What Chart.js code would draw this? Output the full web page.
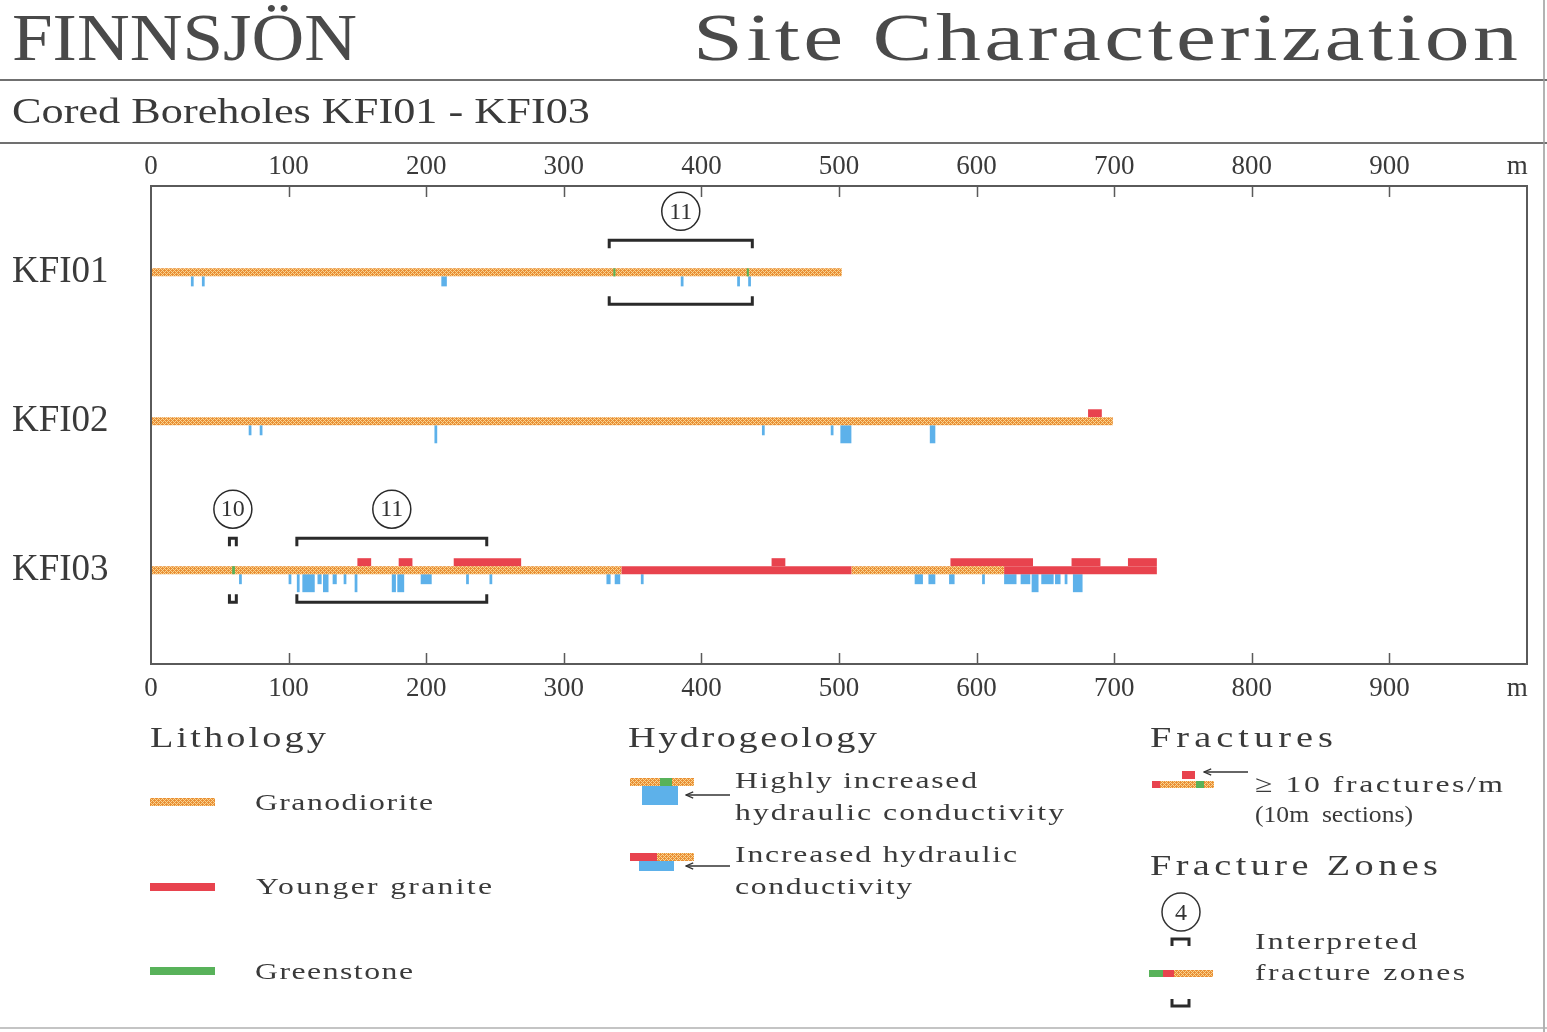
<!DOCTYPE html>
<html>
<head>
<meta charset="utf-8">
<title>Finnsjön – Cored Boreholes KFI01 - KFI03</title>
<script src="https://cdn.jsdelivr.net/npm/chart.js@4.4.1/dist/chart.umd.min.js"></script>
<style>
  html, body { margin: 0; padding: 0; background: #fff; }
  #page { position: relative; width: 1547px; height: 1032px; overflow: hidden; background: #fff;
          font-family: "Liberation Serif", serif; color: #3a3a3a; }
  #page canvas { position: absolute; left: 0; top: 0; }
  .t { position: absolute; white-space: pre; line-height: 1; transform-origin: 0 0; }
  .title { color: #4a4a4a; }
  .rule { position: absolute; left: 0; width: 1547px; height: 2px; background: #707070; }
  #art { position: absolute; left: 0; top: 0; pointer-events: none; }
</style>
</head>
<body>
<div id="page">
  <canvas id="chart" width="1547" height="1032"></canvas>

  <div class="t title" data-x="12" data-base="60" data-fs="68" data-w="345">FINNSJÖN</div>
  <div class="t title" data-x="693" data-base="60" data-fs="68" data-w="825">Site Characterization</div>
  <div class="rule" style="top:79px"></div>
  <div class="t" data-x="12" data-base="123" data-fs="35" data-w="578">Cored Boreholes KFI01 - KFI03</div>
  <div class="rule" style="top:142px"></div>

  <div class="t" data-x="150" data-base="747" data-fs="29" data-w="176">Lithology</div>
  <div class="t" data-x="255" data-base="810" data-fs="24" data-w="178">Granodiorite</div>
  <div class="t" data-x="256" data-base="894" data-fs="24" data-w="236">Younger granite</div>
  <div class="t" data-x="255" data-base="979" data-fs="24" data-w="158">Greenstone</div>

  <div class="t" data-x="628" data-base="747" data-fs="29" data-w="249">Hydrogeology</div>
  <div class="t" data-x="735" data-base="788" data-fs="24" data-w="242">Highly increased</div>
  <div class="t" data-x="735" data-base="820" data-fs="24" data-w="329">hydraulic conductivity</div>
  <div class="t" data-x="735" data-base="862" data-fs="24" data-w="282">Increased hydraulic</div>
  <div class="t" data-x="735" data-base="894" data-fs="24" data-w="177">conductivity</div>

  <div class="t" data-x="1150" data-base="747" data-fs="29" data-w="183">Fractures</div>
  <div class="t" data-x="1255" data-base="792" data-fs="24" data-w="248">≥ 10 fractures/m</div>
  <div class="t" data-x="1255" data-base="822" data-fs="24" data-w="158">(10m  sections)</div>

  <div class="t" data-x="1150" data-base="875" data-fs="29" data-w="288">Fracture Zones</div>
  <div class="t" data-x="1255" data-base="949" data-fs="24" data-w="162">Interpreted</div>
  <div class="t" data-x="1255" data-base="980" data-fs="24" data-w="210">fracture zones</div>

  <svg id="art" width="1547" height="1032" xmlns="http://www.w3.org/2000/svg">
    <defs>
      <pattern id="hatch" width="4" height="4" patternUnits="userSpaceOnUse">
        <rect width="4" height="4" fill="#ea8f36"/>
        <path d="M0 0h1v1h-1zM1 1h1v1h-1zM2 2h1v1h-1zM3 3h1v1h-1zM1 3h1v1h-1zM3 1h1v1h-1z" fill="#f7d590"/>
      </pattern>
      <marker id="head" viewBox="0 0 10 10" refX="9" refY="5" markerWidth="9" markerHeight="9"
              markerUnits="userSpaceOnUse" orient="auto">
        <path d="M1 1.5L9 5L1 8.5" fill="none" stroke="#333" stroke-width="1.4"/>
      </marker>
    </defs>
    <!-- Lithology -->
    <rect x="150" y="798" width="65" height="8" fill="url(#hatch)"/>
    <rect x="150" y="883" width="65" height="8" fill="#e8434e"/>
    <rect x="150" y="967" width="65" height="8" fill="#58b25a"/>
    <!-- Hydrogeology -->
    <rect x="630" y="778" width="30" height="8" fill="url(#hatch)"/>
    <rect x="660" y="778" width="12" height="8" fill="#58b25a"/>
    <rect x="672" y="778" width="22" height="8" fill="url(#hatch)"/>
    <rect x="642" y="786" width="36" height="19" fill="#5db1ea"/>
    <line x1="730" y1="795" x2="686" y2="795" stroke="#333" stroke-width="1.4" marker-end="url(#head)"/>
    <rect x="630" y="853" width="27" height="8" fill="#e8434e"/>
    <rect x="657" y="853" width="37" height="8" fill="url(#hatch)"/>
    <rect x="639" y="861" width="35" height="10" fill="#5db1ea"/>
    <line x1="730" y1="866" x2="686" y2="866" stroke="#333" stroke-width="1.4" marker-end="url(#head)"/>
    <!-- Fractures -->
    <rect x="1152" y="781" width="8" height="7" fill="#e8434e"/>
    <rect x="1160" y="781" width="36" height="7" fill="url(#hatch)"/>
    <rect x="1196" y="781" width="8" height="7" fill="#58b25a"/>
    <rect x="1204" y="781" width="10" height="7" fill="url(#hatch)"/>
    <rect x="1182" y="771" width="13" height="8" fill="#e8434e"/>
    <line x1="1248" y1="772" x2="1204" y2="772" stroke="#333" stroke-width="1.4" marker-end="url(#head)"/>
    <!-- Fracture zones -->
    <circle cx="1181" cy="912" r="19" fill="none" stroke="#333" stroke-width="1.5"/>
    <text x="1181" y="920" text-anchor="middle" font-family="Liberation Serif" font-size="24" fill="#333">4</text>
    <path d="M1172 946V939H1189V946" fill="none" stroke="#2a2a2a" stroke-width="3"/>
    <rect x="1149" y="970" width="14" height="7" fill="#58b25a"/>
    <rect x="1163" y="970" width="11" height="7" fill="#e8434e"/>
    <rect x="1174" y="970" width="39" height="7" fill="url(#hatch)"/>
    <path d="M1172 999V1006H1189V999" fill="none" stroke="#2a2a2a" stroke-width="3"/>
    <!-- page frame -->
    <line x1="1544" y1="0" x2="1544" y2="1032" stroke="#9a9a9a" stroke-width="1.5"/>
    <line x1="0" y1="1028" x2="1547" y2="1028" stroke="#b0b0b0" stroke-width="1.5"/>
  </svg>
</div>

<script>
// ---- data (metres along borehole) ----
const BOREHOLES = ['KFI01', 'KFI02', 'KFI03'];
const ROW_POS = [1, 2, 3];
const X_TICKS = [0, 100, 200, 300, 400, 500, 600, 700, 800, 900];
const X_UNIT = 'm';
const X_UNIT_AT = 993;

// lithology segments, one list per borehole
const granodiorite = [[[0, 502]], [[0, 699]], [[0, 342], [509, 620]]];
const youngerGranite = [[], [], [[342, 509], [620, 731]]];
const greenstone = [[[336, 337.5], [433, 434.5]], [], [[59, 61]]];

// >= 10 fractures/m (10 m sections)
const fractures10 = [
  [],
  [[681, 691]],
  [[150, 160], [180, 190], [220, 269], [451, 461], [581, 641], [669, 690], [710, 731]],
];

// hydraulic conductivity
const increasedK = [
  [[29, 31], [37, 39], [211, 215], [385, 387], [426, 428], [434, 436]],
  [[71, 73], [79, 81], [444, 446], [494, 496]],
  [[64, 66], [100, 102], [121, 124], [132, 135], [140, 142], [196, 204], [229, 231], [246, 248],
   [331, 334], [337, 341], [356, 358], [555, 561], [565, 570], [580, 584], [604, 606],
   [620, 629], [632, 639], [647, 656], [657, 661], [664, 666]],
];
const highK = [
  [],
  [[206, 208], [501, 509], [566, 570]],
  [[106, 108], [110, 119], [125, 129], [148, 150], [175, 178], [179, 184], [640, 645], [670, 677]],
];

// interpreted fracture zones
const zoneIds = ['11', '10', '11'];
const zoneHole = [0, 2, 2];
const zoneFrom = [333, 57, 106];
const zoneTo = [437, 62, 244];

// ---- styling ----
const Y_MIN = 0.42, Y_MAX = 3.63, PLOT_H = 478;
const px = (p) => p * (Y_MAX - Y_MIN) / PLOT_H;
const C = { red: '#e8434e', blue: '#5db1ea', green: '#58b25a', ink: '#2a2a2a' };
const FONT = '"Liberation Serif", serif';

// stretch the thin serif texts to the wide plotter lettering of the original
document.querySelectorAll('.t').forEach((el) => {
  const fs = +el.dataset.fs;
  el.style.fontSize = fs + 'px';
  el.style.left = el.dataset.x + 'px';
  el.style.top = (el.dataset.base - 0.8375 * fs) + 'px';
  const natural = el.getBoundingClientRect().width;
  const n = el.textContent.length;
  const target = +el.dataset.w;
  const k = Math.min(1.32, Math.max(1, target / natural));
  el.style.letterSpacing = ((target / k - natural) / (n - 1)) + 'px';
  el.style.transform = `scaleX(${k})`;
});

const makeHatch = () => {
  const tile = document.createElement('canvas');
  tile.width = tile.height = 4;
  const t = tile.getContext('2d');
  t.fillStyle = '#ea8f36';
  t.fillRect(0, 0, 4, 4);
  t.fillStyle = '#f7d590';
  [[0, 0], [1, 1], [2, 2], [3, 3], [1, 3], [3, 1]].forEach(([a, b]) => t.fillRect(a, b, 1, 1));
  return document.getElementById('chart').getContext('2d').createPattern(tile, 'repeat');
};

const toBars = (lists, offset) =>
  lists.flatMap((segs, i) => segs.map(([a, b]) => ({ x: [a, b], y: ROW_POS[i] + offset })));

const barSet = (label, lists, color, thick, offsetPx) => ({
  label,
  data: toBars(lists, px(offsetPx)),
  backgroundColor: color,
  barThickness: thick,
  borderWidth: 0,
  grouped: false,
  inflateAmount: 0,
});

const framePlugin = {
  id: 'frame',
  afterDatasetsDraw(chart) {
    const { ctx, chartArea: a, scales: { x } } = chart;
    ctx.save();
    ctx.strokeStyle = '#5a5a5a';
    ctx.lineWidth = 2;
    ctx.strokeRect(a.left, a.top, a.width, a.height);
    ctx.lineWidth = 1.5;
    X_TICKS.slice(1).forEach((v) => {
      const p = Math.round(x.getPixelForValue(v)) + 0.5;
      ctx.beginPath();
      ctx.moveTo(p, a.top); ctx.lineTo(p, a.top + 11);
      ctx.moveTo(p, a.bottom); ctx.lineTo(p, a.bottom - 11);
      ctx.stroke();
    });
    ctx.restore();
  },
};

const zonePlugin = {
  id: 'zones',
  afterDatasetsDraw(chart) {
    const { ctx, scales: { x, y } } = chart;
    ctx.save();
    ctx.strokeStyle = C.ink;
    zoneIds.forEach((id, i) => {
      const x0 = x.getPixelForValue(zoneFrom[i]);
      const x1 = x.getPixelForValue(zoneTo[i]);
      const yc = y.getPixelForValue(ROW_POS[zoneHole[i]]);
      ctx.lineWidth = 3;
      ctx.beginPath();
      ctx.moveTo(x0, yc - 24); ctx.lineTo(x0, yc - 32); ctx.lineTo(x1, yc - 32); ctx.lineTo(x1, yc - 24);
      ctx.moveTo(x0, yc + 24); ctx.lineTo(x0, yc + 32); ctx.lineTo(x1, yc + 32); ctx.lineTo(x1, yc + 24);
      ctx.stroke();
      const cx = (x0 + x1) / 2, cy = yc - 61;
      ctx.lineWidth = 1.5;
      ctx.beginPath();
      ctx.arc(cx, cy, 19, 0, Math.PI * 2);
      ctx.stroke();
      ctx.fillStyle = '#333';
      ctx.font = '24px ' + FONT;
      ctx.textAlign = 'center';
      ctx.textBaseline = 'middle';
      ctx.fillText(id, cx, cy + 1);
    });
    ctx.restore();
  },
};

const xAxis = (position, pad) => ({
  type: 'linear',
  position,
  min: 0,
  max: 1000,
  offset: false,
  grid: { display: false, drawTicks: false },
  border: { display: false },
  afterBuildTicks: (s) => { s.ticks = X_TICKS.concat(X_UNIT_AT).map((value) => ({ value })); },
  afterFit: (s) => { s.height = 46; },
  ticks: {
    padding: pad,
    maxRotation: 0,
    autoSkip: false,
    color: '#3a3a3a',
    font: { family: FONT, size: 27 },
    callback: (v) => (v === X_UNIT_AT ? X_UNIT : String(v)),
  },
});

const hatch = makeHatch();

new Chart(document.getElementById('chart'), {
  type: 'bar',
  data: {
    datasets: [
      barSet('Greenstone', greenstone, C.green, 8, 0),
      barSet('Younger granite', youngerGranite, C.red, 8, 0),
      barSet('Granodiorite', granodiorite, hatch, 8, 0),
      barSet('>= 10 fractures/m', fractures10, C.red, 8, -8),
      barSet('Increased hydraulic conductivity', increasedK, C.blue, 10, 9),
      barSet('Highly increased hydraulic conductivity', highK, C.blue, 18, 13),
    ],
  },
  options: {
    indexAxis: 'y',
    responsive: false,
    animation: false,
    layout: { padding: { left: 12, top: 140, right: 20, bottom: 322 } },
    plugins: { legend: { display: false }, tooltip: { enabled: false } },
    scales: {
      x: xAxis('bottom', 9),
      x2: xAxis('top', 3),
      y: {
        type: 'linear',
        min: Y_MIN,
        max: Y_MAX,
        offset: false,
        reverse: true,
        position: 'left',
        grid: { display: false, drawTicks: false },
        border: { display: false },
        afterBuildTicks: (s) => { s.ticks = ROW_POS.map((value) => ({ value })); },
        afterFit: (s) => { s.width = 139; },
        ticks: {
          crossAlign: 'far',
          color: '#3a3a3a',
          font: { family: FONT, size: 37 },
          callback: (v) => BOREHOLES[ROW_POS.indexOf(v)] || '',
        },
      },
    },
  },
  plugins: [framePlugin, zonePlugin],
});
</script>
</body>
</html>
